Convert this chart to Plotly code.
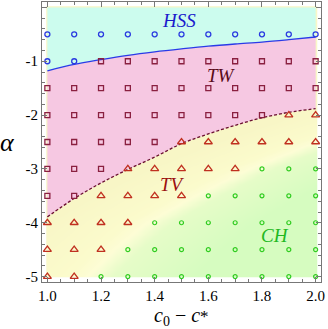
import numpy as np
import plotly.graph_objects as go

# ---- data ----
c_vals = [1.0, 1.1, 1.2, 1.3, 1.4, 1.5, 1.6, 1.7, 1.8, 1.9, 2.0]
alpha_vals = [-0.5, -1.0, -1.5, -2.0, -2.5, -3.0, -3.5, -4.0, -4.5, -5.0]
# phase grid: rows follow alpha_vals, columns follow c_vals
phase_rows = [
    "HHHHHHHHHHH",
    "HHWWWWWWWWW",
    "WWWWWWWWWWW",
    "WWWWWWWWWVV",
    "WWWWWVVVVVV",
    "WWWVVVVVCCC",
    "WWVVVVCCCCC",
    "VVVVCCCCCCC",
    "VVVCCCCCCCC",
    "VVCCCCCCCCC",
]
# HSS / TW boundary (solid) and TW / TV boundary (dashed)
hss_tw_c = [1.0, 1.1, 1.2, 1.3, 1.4, 1.5, 1.6, 1.7, 1.8, 1.9, 2.0]
hss_tw_alpha = [-1.18, -1.06, -0.97, -0.89, -0.825, -0.77, -0.72, -0.68, -0.645, -0.60, -0.55]
tw_tv_c = [1.0, 1.1, 1.2, 1.3, 1.4, 1.5, 1.6, 1.7, 1.8, 1.9, 2.0]
tw_tv_alpha = [-3.89, -3.55, -3.26, -3.01, -2.78, -2.53, -2.35, -2.19, -2.05, -1.95, -1.88]
# approximate TV / CH transition (for background shading)
tv_ch_alpha = [-5.5, -5.0, -4.5, -4.0, -3.5, -3.0, -2.5, -2.0]
tv_ch_c = [1.05, 1.15, 1.25, 1.37, 1.55, 1.75, 2.0, 2.3]

x_ticks = [1.0, 1.2, 1.4, 1.6, 1.8, 2.0]
x_tick_text = ["1.0", "1.2", "1.4", "1.6", "1.8", "2.0"]
y_ticks = [0, -1, -2, -3, -4, -5]
y_tick_text = ["0", "-1", "-2", "-3", "-4", "-5"]

labels = ["HSS", "TW", "TV", "CH"]
label_c = [1.49, 1.65, 1.465, 1.848]
label_alpha = [-0.24, -1.26, -3.28, -4.23]
label_colors = ["#1a1acc", "#5a0a18", "#9a1010", "#22b822"]

# ---- figure ----
fig = go.Figure()

# background gradient for TV/CH area
gx = np.linspace(1.0, 2.0, 121)
gy = np.linspace(-5.0, 0.0, 121)
xb = np.interp(gy, tv_ch_alpha, tv_ch_c)
Z = gx[None, :] - xb[:, None]
fig.add_trace(go.Heatmap(
    x=gx, y=gy, z=Z, zmin=-0.4, zmax=0.4, showscale=False, hoverinfo="skip",
    colorscale=[[0.0, "#f8f6c6"], [0.4, "#fbfbcc"], [0.5, "#fdfdd6"],
                [0.62, "#e6fcc8"], [1.0, "#d6fcc0"]],
    zsmooth="best",
))

# pink TW region
fig.add_trace(go.Scatter(
    x=tw_tv_c + hss_tw_c[::-1], y=tw_tv_alpha + hss_tw_alpha[::-1],
    fill="toself", fillcolor="#f6c8e2", line=dict(width=0), mode="lines",
    hoverinfo="skip", showlegend=False))
# cyan HSS region
fig.add_trace(go.Scatter(
    x=hss_tw_c + [2.0, 1.0], y=hss_tw_alpha + [0.0, 0.0],
    fill="toself", fillcolor="#ccfcee", line=dict(width=0), mode="lines",
    hoverinfo="skip", showlegend=False))

# boundaries
fig.add_trace(go.Scatter(x=hss_tw_c, y=hss_tw_alpha, mode="lines",
                         line=dict(color="#2a3ae8", width=1.3, shape="spline"),
                         showlegend=False))
fig.add_trace(go.Scatter(x=tw_tv_c, y=tw_tv_alpha, mode="lines",
                         line=dict(color="#6a1030", width=1.3, dash="3px,2px", shape="spline"),
                         showlegend=False))

# markers
styles = {
    "H": dict(symbol="circle-open", size=5, color="#2a3ae0", line=dict(width=1.3, color="#2a3ae0")),
    "W": dict(symbol="square-open", size=5, color="#8a2040", line=dict(width=1.3, color="#8a2040")),
    "V": dict(symbol="triangle-up-open", size=7, color="#c03020", line=dict(width=1.3, color="#c03020")),
    "C": dict(symbol="circle-open", size=4, color="#30cc20", line=dict(width=1.2, color="#30cc20")),
}
for key, st in styles.items():
    xs, ys = [], []
    for i, a in enumerate(alpha_vals):
        for j, c in enumerate(c_vals):
            if phase_rows[i][j] == key:
                xs.append(c)
                ys.append(a)
    fig.add_trace(go.Scatter(x=xs, y=ys, mode="markers", marker=st,
                             showlegend=False, hoverinfo="skip"))

for t, cx, cy, col in zip(labels, label_c, label_alpha, label_colors):
    fig.add_annotation(x=cx, y=cy, text=f"<i>{t}</i>", showarrow=False,
                       font=dict(family="Liberation Serif", size=19, color=col))

axis_common = dict(
    showline=True, linecolor="#777777", linewidth=1, mirror="allticks",
    ticks="inside", ticklen=5, tickcolor="#777777", tickwidth=1,
    showgrid=False, zeroline=False, automargin=False,
    tickfont=dict(family="Liberation Serif", size=15, color="black"),
)
fig.update_xaxes(range=[0.98, 2.02], tickvals=x_ticks, ticktext=x_tick_text,
                 minor=dict(ticks="inside", dtick=0.05, ticklen=3, tickcolor="#777777", showgrid=False),
                 **axis_common)
fig.update_yaxes(range=[-5.1, 0.1], tickvals=y_ticks, ticktext=y_tick_text,
                 minor=dict(ticks="inside", dtick=0.2, ticklen=3, tickcolor="#777777", showgrid=False),
                 **axis_common)
# axis titles as paper annotations for exact placement
fig.add_annotation(xref="paper", yref="paper", x=0.5, y=-0.073, yanchor="top",
                   text="<i>c</i><sub>0</sub> − <i>c</i><span style='font-size:17px'>*</span>",
                   showarrow=False,
                   font=dict(family="Liberation Serif", size=20, color="black"))
fig.add_annotation(xref="paper", yref="paper", x=-0.09, y=0.5, xanchor="right",
                   text="<i>α</i>", showarrow=False,
                   font=dict(family="Liberation Serif", size=26, color="black"))
fig.update_layout(
    width=328, height=329,
    margin=dict(l=42, r=7, t=2, b=47),
    plot_bgcolor="white", paper_bgcolor="white",
    showlegend=False,
)
fig.write_html("out.html", config={"displayModeBar": False},
               post_script="document.body.style.margin='0px';")
